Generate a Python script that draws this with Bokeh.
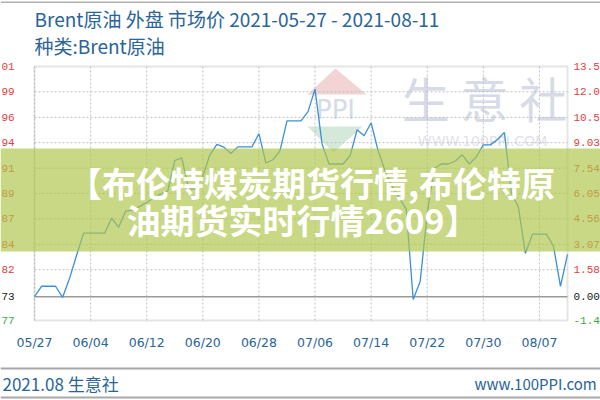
import pandas as pd
from bokeh.plotting import figure
from bokeh.models import Range1d, Label, BoxAnnotation, PolyAnnotation
from bokeh.embed import file_html
from bokeh.resources import INLINE

# ---------------- data ----------------
start_date = "2021-05-27"
prices = [68.73, 69.15, 69.15, 69.15, 68.70, 69.47, 70.40, 71.29, 71.29, 71.29,
          71.29, 71.90, 71.53, 72.18, 72.22, 72.37, 72.53, 72.71, 72.87, 72.99,
          74.22, 74.33, 73.07, 73.07, 73.59, 74.44, 74.87, 74.76, 74.50, 74.77,
          74.77, 74.77, 75.30, 74.12, 74.25, 74.61, 75.82, 75.82, 75.82, 76.19,
          77.10, 74.89, 74.08, 74.08, 74.08, 74.41, 75.46, 75.22, 75.74, 74.61,
          73.80, 73.19, 72.71, 72.26, 68.62, 69.35, 72.10, 73.90, 74.08, 74.08,
          74.20, 74.45, 74.08, 74.37, 74.85, 74.85, 75.06, 75.35, 72.91, 72.34,
          70.48, 71.25, 71.25, 71.25, 70.77, 69.15, 70.44]
base_price = 68.73
y_min, y_max = 67.77, 78.01

x_tick_dates = ["2021-05-27", "2021-06-04", "2021-06-12", "2021-06-20", "2021-06-28",
                "2021-07-06", "2021-07-14", "2021-07-22", "2021-07-30", "2021-08-07"]
x_tick_labels = ["05/27", "06/04", "06/12", "06/20", "06/28",
                 "07/06", "07/14", "07/22", "07/30", "08/07"]

left_values = [78.01, 76.99, 75.96, 74.94, 73.91, 72.89, 71.87, 70.84, 69.82, 68.73, 67.77]
left_labels = ["01", "99", "96", "94", "91", "89", "87", "84", "82", "73", "77"]
right_labels = ["13.5", "12.0", "10.5", "9.03", "7.54", "6.05", "4.56", "3.07", "1.58", "0.00", "-1.4"]
grid_levels = [76.99, 75.96, 74.94, 73.91, 72.89, 71.87, 70.84, 69.82]

title_text = "Brent原油 外盘 市场价 2021-05-27 - 2021-08-11"
subtitle_text = "种类:Brent原油"
band_line1 = "【布伦特煤炭期货行情,布伦特原"
band_line2 = "油期货实时行情2609】"
footer_left = "2021.08 生意社"
footer_right = "www.100PPI.com"

dates = pd.date_range(start_date, periods=len(prices), freq="D")
tick_dates = pd.to_datetime(x_tick_dates)

# ---------------- layout: plot box position inside the canvas (pixels) ----------------
W, H = 600, 400
FL, FR, FT, FB = 34, 567, 66, 320
n_days = (dates[-1] - dates[0]) / pd.Timedelta(days=1)
px_per_day = (FR - FL) / n_days
px_per_unit = (FB - FT) / (y_max - y_min)
x_start = dates[0] - pd.Timedelta(days=FL / px_per_day)
x_end = dates[-1] + pd.Timedelta(days=(W - FR) / px_per_day)
y_top = y_max + FT / px_per_unit
y_bot = y_min - (H - FB) / px_per_unit


def sx(x):
    return x


def sy(y):
    return H - y


BLUE_TXT = "#29649a"
RED = "#e0403c"
GREEN = "#3aa83a"

p = figure(width=W, height=H, x_axis_type="datetime",
           x_axis_location=None, y_axis_location=None,
           x_range=Range1d(x_start, x_end), y_range=Range1d(y_bot, y_top),
           toolbar_location=None, output_backend="svg",
           min_border=0, min_border_left=0, min_border_right=0,
           min_border_top=0, min_border_bottom=0)
p.background_fill_color = "white"
p.border_fill_color = "white"
p.outline_line_color = None
p.xgrid.visible = False
p.ygrid.visible = False

# ---------------- watermark ----------------
p.add_layout(PolyAnnotation(xs=[sx(307), sx(335), sx(366)], ys=[sy(94), sy(68), sy(94)],
                            xs_units="screen", ys_units="screen", fill_color="#f2d4d4",
                            fill_alpha=1, line_color=None, level="underlay"))
p.add_layout(PolyAnnotation(xs=[sx(307), sx(333), sx(362)], ys=[sy(126), sy(152), sy(126)],
                            xs_units="screen", ys_units="screen", fill_color="#d4e9da",
                            fill_alpha=1, line_color=None, level="underlay"))
p.add_layout(Label(x=sx(335), y=sy(109), x_units="screen", y_units="screen", text="PPI",
                   text_font="DejaVu Sans", text_font_size="26px", text_color="#d5dbe7",
                   text_align="center", text_baseline="middle", level="underlay"))
p.add_layout(Label(x=sx(484), y=sy(96), x_units="screen", y_units="screen", text="生 意 社",
                   text_font="Noto Sans CJK SC", text_font_size="48px", text_color="#d6dbe7",
                   text_align="center", text_baseline="middle", level="underlay"))
p.add_layout(Label(x=sx(482), y=sy(140), x_units="screen", y_units="screen", text="WWW.100PPI.COM",
                   text_font="DejaVu Sans", text_font_size="14px", text_color="#dfe2e8",
                   text_align="center", text_baseline="middle", level="underlay"))

# ---------------- grid, baseline, box ----------------
n_h = len(grid_levels)
p.segment(x0=[dates[0]] * n_h, x1=[dates[-1]] * n_h, y0=grid_levels, y1=grid_levels,
          line_color="#c0c0c0", line_dash="2 2", line_width=1)
n_v = len(tick_dates)
p.segment(x0=tick_dates, x1=tick_dates, y0=[y_min] * n_v, y1=[y_max] * n_v,
          line_color="#c0c0c0", line_dash="2 2", line_width=1)
p.segment(x0=[dates[0]], x1=[dates[-1]], y0=[base_price], y1=[base_price],
          line_color="#9a9a9a", line_width=1.5)
p.line(dates, prices, line_color="#3c8fd9", line_width=1.3)
p.add_layout(BoxAnnotation(left=dates[0], right=dates[-1], bottom=y_min, top=y_max,
                           fill_color=None, fill_alpha=0, line_color="#a8a8a8", line_width=2))

# ---------------- axis labels ----------------
for d, t in zip(tick_dates, x_tick_labels):
    p.add_layout(Label(x=d, y=sy(342), x_units="data", y_units="screen", text=t,
                       text_font="DejaVu Sans", text_font_size="12.5px", text_color=BLUE_TXT,
                       text_align="center", text_baseline="middle"))

for v, lt, rt in zip(left_values, left_labels, right_labels):
    if v > base_price:
        c = RED
    elif v == base_price:
        c = "#202020"
    else:
        c = GREEN
    p.add_layout(Label(x=sx(1), y=v, x_units="screen", y_units="data", text=lt,
                       text_font="Liberation Mono", text_font_size="11px", text_color=c,
                       text_align="left", text_baseline="middle"))
    p.add_layout(Label(x=sx(573), y=v, x_units="screen", y_units="data", text=rt,
                       text_font="Liberation Mono", text_font_size="11px", text_color=c,
                       text_align="left", text_baseline="middle"))

# ---------------- titles / footer ----------------
p.add_layout(Label(x=sx(34), y=sy(18), x_units="screen", y_units="screen", text=title_text,
                   text_font="Noto Sans CJK SC", text_font_size="19px", text_color=BLUE_TXT,
                   text_align="left", text_baseline="middle"))
p.add_layout(Label(x=sx(34), y=sy(45), x_units="screen", y_units="screen", text=subtitle_text,
                   text_font="Noto Sans CJK SC", text_font_size="19px", text_color=BLUE_TXT,
                   text_align="left", text_baseline="middle"))
p.add_layout(BoxAnnotation(left=sx(0), right=sx(W), top=sy(1), bottom=sy(2.5),
                           left_units="screen", right_units="screen", top_units="screen",
                           bottom_units="screen", fill_color="#b0b0b0", fill_alpha=1,
                           line_color=None))
p.add_layout(BoxAnnotation(left=sx(0), right=sx(W), top=sy(367), bottom=sy(369),
                           left_units="screen", right_units="screen", top_units="screen",
                           bottom_units="screen", fill_color="#a8a8a8", fill_alpha=1,
                           line_color=None))
p.add_layout(BoxAnnotation(left=sx(0), right=sx(W), top=sy(396), bottom=sy(398),
                           left_units="screen", right_units="screen", top_units="screen",
                           bottom_units="screen", fill_color="#a8a8a8", fill_alpha=1,
                           line_color=None))
p.add_layout(Label(x=sx(2), y=sy(383), x_units="screen", y_units="screen", text=footer_left,
                   text_font="Noto Sans CJK SC", text_font_size="17px", text_color=BLUE_TXT,
                   text_align="left", text_baseline="middle"))
p.add_layout(Label(x=sx(474), y=sy(383), x_units="screen", y_units="screen", text=footer_right,
                   text_font="Noto Sans CJK SC", text_font_size="15px", text_color=BLUE_TXT,
                   text_align="left", text_baseline="middle"))

# ---------------- overlay band ----------------
p.add_layout(BoxAnnotation(left=sx(0), right=sx(W), top=sy(148), bottom=sy(251),
                           left_units="screen", right_units="screen", top_units="screen",
                           bottom_units="screen", fill_color="#b0c64a", fill_alpha=0.68,
                           line_color=None, level="overlay"))
p.add_layout(Label(x=sx(311), y=sy(182), x_units="screen", y_units="screen", text=band_line1,
                   text_font="Noto Sans CJK SC", text_font_style="bold", text_font_size="34px",
                   text_color="white", text_align="center", text_baseline="middle", level="overlay"))
p.add_layout(Label(x=sx(302), y=sy(219), x_units="screen", y_units="screen", text=band_line2,
                   text_font="Noto Sans CJK SC", text_font_style="bold", text_font_size="34px",
                   text_color="white", text_align="center", text_baseline="middle", level="overlay"))

open("out.html", "w").write(file_html(p, INLINE))
